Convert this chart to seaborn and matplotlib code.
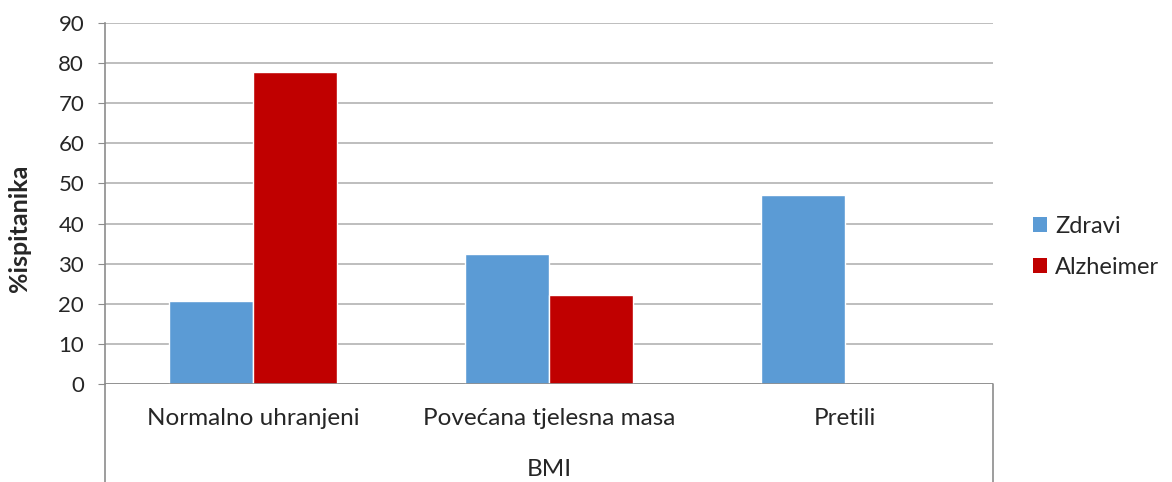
import pandas as pd
import seaborn as sns
import matplotlib.pyplot as plt
from matplotlib.lines import Line2D
from matplotlib.patches import Patch

# podaci
categories = ['Normalno uhranjeni', 'Povećana tjelesna masa', 'Pretili']
zdravi = [20.6, 32.4, 47.1]
alzheimer = [77.8, 22.2, 0.0]
groups = ['Zdravi', 'Alzheimer']
colors = ['#5B9BD5', '#C00000']

df = pd.DataFrame({
    'BMI': categories * 2,
    'vrijednost': zdravi + alzheimer,
    'grupa': ['Zdravi'] * 3 + ['Alzheimer'] * 3,
})

sns.set_style('white')
plt.rcParams['font.family'] = ['Lato', 'DejaVu Sans']

fig = plt.figure(figsize=(11.72, 4.82), dpi=100)
ax = fig.add_axes([105 / 1172, 1 - 384 / 482, (993 - 105) / 1172, (384 - 23) / 482])

sns.barplot(data=df, x='BMI', y='vrijednost', hue='grupa', order=categories,
            hue_order=groups, palette=colors, width=0.57, saturation=1,
            ax=ax, legend=False)

ax.set_ylim(0, 90)
ax.set_xlim(-0.5, 2.5)
ax.set_yticks(range(0, 91, 10))
ax.yaxis.grid(True, color='#b3b3b3', linewidth=1.2)
ax.set_axisbelow(True)
for s in ['top', 'right', 'bottom']:
    ax.spines[s].set_visible(False)
ax.spines['left'].set_color('#8c8c8c')
ax.spines['left'].set_linewidth(1.2)
ax.axhline(0, color='#8c8c8c', linewidth=1.2)

ax.tick_params(axis='y', length=5, color='#8c8c8c', labelsize=16, pad=10, left=True)
ax.tick_params(axis='x', length=0, labelsize=17.5, pad=17)
ax.set_ylabel('')
ax.set_xlabel('BMI', fontsize=17.5, labelpad=22)
fig.text(20 / 1172, 1 - 228 / 482, '%ispitanika', rotation=90, fontsize=18,
         fontweight='bold', ha='center', va='center')

# granice grupe kategorija
for xp in [105 / 1172, 993 / 1172]:
    fig.add_artist(Line2D([xp, xp], [0, 1 - 384 / 482], color='#8c8c8c', linewidth=1.2))

handles = [Patch(facecolor=c, edgecolor='none') for c in colors]
fig.legend(handles, groups, loc='center left', bbox_to_anchor=(1033 / 1172, 1 - 247 / 482),
           frameon=False, fontsize=17, handlelength=0.6, handleheight=0.6,
           handletextpad=0.34, labelspacing=0.85, borderpad=0, borderaxespad=0)

plt.savefig('out.png', dpi=100)
